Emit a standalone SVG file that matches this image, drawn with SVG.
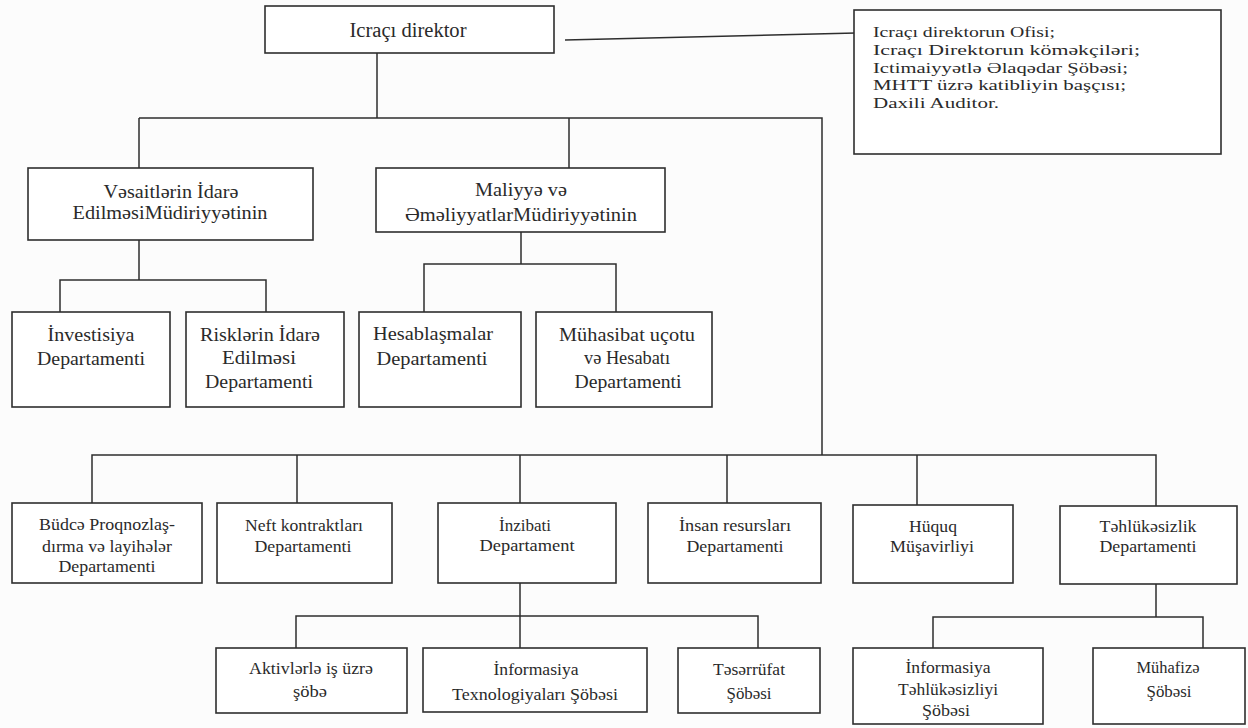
<svg xmlns="http://www.w3.org/2000/svg" width="1248" height="728" viewBox="0 0 1248 728">
  <style>
    .box { fill: #ffffff; stroke: #2e2e2e; stroke-width: 1.6; }
    .ln { fill: none; stroke: #2e2e2e; stroke-width: 1.5; }
    text { font-family: "Liberation Serif", "DejaVu Serif", serif; fill: #2a2a2a; }
    .c { text-anchor: middle; }
    .f20 { font-size: 20px; }
    .f19 { font-size: 19px; }
    .f17 { font-size: 17px; }
    .fo { font-size: 15.5px; }
  </style>
  <rect width="1248" height="728" fill="#fcfcfc"/>

  <!-- connectors -->
  <g id="connectors" class="ln">
    <path d="M377 53 V118"/>
    <path d="M565 40 L856 33"/>
    <path d="M139 118 H822 V455"/>
    <path d="M139 118 V168"/>
    <path d="M569 118 V168"/>
    <path d="M139 240 V280"/>
    <path d="M60 312 V280 H266 V312"/>
    <path d="M521 232 V264"/>
    <path d="M424 312 V264 H616 V312"/>
    <path d="M92 503 V455 H1156 V506"/>
    <path d="M297 455 V503"/>
    <path d="M520 455 V503"/>
    <path d="M727 455 V503"/>
    <path d="M917 455 V505"/>
    <path d="M520 583 V648"/>
    <path d="M296 648 V616 H758 V648"/>
    <path d="M1156 584 V617"/>
    <path d="M933 648 V617 H1203 V648"/>
  </g>

  <g id="icraci-direktor">
    <rect class="box" x="265" y="6" width="289" height="47"/>
    <text class="c f20" x="408" y="37" textLength="117" lengthAdjust="spacingAndGlyphs">Icraçı direktor</text>
  </g>

  <g id="ofis">
    <rect class="box" x="854" y="10" width="367" height="144"/>
    <text class="fo" x="873" y="37" textLength="182" lengthAdjust="spacingAndGlyphs">Icraçı direktorun Ofisi;</text>
    <text class="fo" x="873" y="55" textLength="267" lengthAdjust="spacingAndGlyphs">Icraçı Direktorun köməkçiləri;</text>
    <text class="fo" x="873" y="72.5" textLength="255" lengthAdjust="spacingAndGlyphs">Ictimaiyyətlə Əlaqədar Şöbəsi;</text>
    <text class="fo" x="873" y="90" textLength="253" lengthAdjust="spacingAndGlyphs">MHTT üzrə katibliyin başçısı;</text>
    <text class="fo" x="873" y="107.5" textLength="126" lengthAdjust="spacingAndGlyphs">Daxili Auditor.</text>
  </g>

  <g id="vesaitlerin-idare">
    <rect class="box" x="28" y="168" width="285" height="72"/>
    <text class="c f19" x="171" y="198" textLength="135" lengthAdjust="spacingAndGlyphs">Vəsaitlərin İdarə</text>
    <text class="c f19" x="170" y="219" textLength="195" lengthAdjust="spacingAndGlyphs">EdilməsiMüdiriyyətinin</text>
  </g>

  <g id="maliyye-emeliyyatlar">
    <rect class="box" x="376" y="168" width="289" height="64"/>
    <text class="c f19" x="521" y="196" textLength="92" lengthAdjust="spacingAndGlyphs">Maliyyə və</text>
    <text class="c f19" x="521" y="221" textLength="232" lengthAdjust="spacingAndGlyphs">ƏməliyyatlarMüdiriyyətinin</text>
  </g>

  <g id="investisiya">
    <rect class="box" x="12" y="312" width="158" height="95"/>
    <text class="c f19" x="91" y="341" textLength="87" lengthAdjust="spacingAndGlyphs">İnvestisiya</text>
    <text class="c f19" x="91" y="365" textLength="108" lengthAdjust="spacingAndGlyphs">Departamenti</text>
  </g>

  <g id="risklerin-idare">
    <rect class="box" x="186" y="312" width="158" height="95"/>
    <text class="c f19" x="260" y="341" textLength="120" lengthAdjust="spacingAndGlyphs">Risklərin İdarə</text>
    <text class="c f19" x="259" y="364" textLength="74" lengthAdjust="spacingAndGlyphs">Edilməsi</text>
    <text class="c f19" x="259" y="388" textLength="108" lengthAdjust="spacingAndGlyphs">Departamenti</text>
  </g>

  <g id="hesablasmalar">
    <rect class="box" x="359" y="312" width="162" height="95"/>
    <text class="c f19" x="433" y="340" textLength="120" lengthAdjust="spacingAndGlyphs">Hesablaşmalar</text>
    <text class="c f19" x="432" y="365" textLength="111" lengthAdjust="spacingAndGlyphs">Departamenti</text>
  </g>

  <g id="muhasibat">
    <rect class="box" x="536" y="312" width="176" height="95"/>
    <text class="c f19" x="627" y="341" textLength="136" lengthAdjust="spacingAndGlyphs">Mühasibat uçotu</text>
    <text class="c f19" x="627" y="364" textLength="86" lengthAdjust="spacingAndGlyphs">və Hesabatı</text>
    <text class="c f19" x="628" y="388" textLength="107" lengthAdjust="spacingAndGlyphs">Departamenti</text>
  </g>

  <g id="budce">
    <rect class="box" x="12" y="503" width="190" height="80"/>
    <text class="c f17" x="107" y="530" textLength="136" lengthAdjust="spacingAndGlyphs">Büdcə Proqnozlaş-</text>
    <text class="c f17" x="107" y="552" textLength="130" lengthAdjust="spacingAndGlyphs">dırma və layihələr</text>
    <text class="c f17" x="107" y="572" textLength="97" lengthAdjust="spacingAndGlyphs">Departamenti</text>
  </g>

  <g id="neft-kontraktlari">
    <rect class="box" x="217" y="503" width="175" height="80"/>
    <text class="c f17" x="304" y="531" textLength="118" lengthAdjust="spacingAndGlyphs">Neft kontraktları</text>
    <text class="c f17" x="303" y="552" textLength="97" lengthAdjust="spacingAndGlyphs">Departamenti</text>
  </g>

  <g id="inzibati">
    <rect class="box" x="438" y="503" width="178" height="80"/>
    <text class="c f17" x="525" y="531" textLength="52" lengthAdjust="spacingAndGlyphs">İnzibati</text>
    <text class="c f17" x="527" y="551" textLength="95" lengthAdjust="spacingAndGlyphs">Departament</text>
  </g>

  <g id="insan-resurslari">
    <rect class="box" x="648" y="503" width="173" height="80"/>
    <text class="c f17" x="735" y="531" textLength="112" lengthAdjust="spacingAndGlyphs">İnsan resursları</text>
    <text class="c f17" x="735" y="552" textLength="97" lengthAdjust="spacingAndGlyphs">Departamenti</text>
  </g>

  <g id="huquq">
    <rect class="box" x="853" y="505" width="160" height="78"/>
    <text class="c f17" x="933" y="532" textLength="48" lengthAdjust="spacingAndGlyphs">Hüquq</text>
    <text class="c f17" x="932" y="552" textLength="84" lengthAdjust="spacingAndGlyphs">Müşavirliyi</text>
  </g>

  <g id="tehlukesizlik">
    <rect class="box" x="1060" y="506" width="177" height="78"/>
    <text class="c f17" x="1148" y="532" textLength="97" lengthAdjust="spacingAndGlyphs">Təhlükəsizlik</text>
    <text class="c f17" x="1148" y="552" textLength="97" lengthAdjust="spacingAndGlyphs">Departamenti</text>
  </g>

  <g id="aktivlerle">
    <rect class="box" x="216" y="648" width="191" height="65"/>
    <text class="c f17" x="311" y="674" textLength="124" lengthAdjust="spacingAndGlyphs">Aktivlərlə iş üzrə</text>
    <text class="c f17" x="310" y="697" textLength="34" lengthAdjust="spacingAndGlyphs">şöbə</text>
  </g>

  <g id="informasiya-texnologiyalari">
    <rect class="box" x="423" y="648" width="224" height="64"/>
    <text class="c f17" x="536" y="675" textLength="85" lengthAdjust="spacingAndGlyphs">İnformasiya</text>
    <text class="c f17" x="535" y="700" textLength="166" lengthAdjust="spacingAndGlyphs">Texnologiyaları Şöbəsi</text>
  </g>

  <g id="teserrufat">
    <rect class="box" x="678" y="648" width="142" height="65"/>
    <text class="c f17" x="749" y="675" textLength="72" lengthAdjust="spacingAndGlyphs">Təsərrüfat</text>
    <text class="c f17" x="749" y="699" textLength="45" lengthAdjust="spacingAndGlyphs">Şöbəsi</text>
  </g>

  <g id="informasiya-tehlukesizliyi">
    <rect class="box" x="853" y="648" width="190" height="76"/>
    <text class="c f17" x="948" y="673" textLength="85" lengthAdjust="spacingAndGlyphs">İnformasiya</text>
    <text class="c f17" x="948" y="695" textLength="100" lengthAdjust="spacingAndGlyphs">Təhlükəsizliyi</text>
    <text class="c f17" x="946" y="716" textLength="48" lengthAdjust="spacingAndGlyphs">Şöbəsi</text>
  </g>

  <g id="muhafize">
    <rect class="box" x="1093" y="648" width="152" height="76"/>
    <text class="c f17" x="1168" y="673" textLength="63" lengthAdjust="spacingAndGlyphs">Mühafizə</text>
    <text class="c f17" x="1169" y="697" textLength="45" lengthAdjust="spacingAndGlyphs">Şöbəsi</text>
  </g>
</svg>
